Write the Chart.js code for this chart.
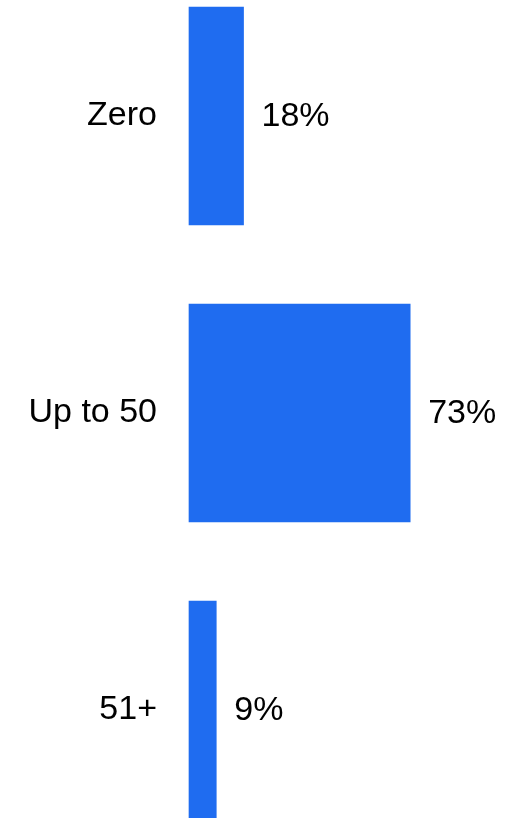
<!DOCTYPE html>
<html>
<head>
<meta charset="utf-8">
<script src="https://cdn.jsdelivr.net/npm/chart.js@4.4.1/dist/chart.umd.min.js"></script>
<style>
  html, body { margin: 0; padding: 0; background: #fff; }
  canvas { display: block; }
</style>
</head>
<body>
<canvas id="chart" width="527" height="818"></canvas>
<script>
const categories = ['Zero', 'Up to 50', '51+'];
const shares = [18, 73, 9];
const valueLabels = ['18%', '73%', '9%'];

const FONT = '"Liberation Sans", Arial, sans-serif';

// draws the percentage to the right of each bar
const valueLabelPlugin = {
  id: 'valueLabels',
  afterDatasetsDraw(chart) {
    const ctx = chart.ctx;
    const meta = chart.getDatasetMeta(0);
    ctx.save();
    ctx.font = '34px ' + FONT;
    ctx.fillStyle = '#000';
    ctx.textAlign = 'left';
    ctx.textBaseline = 'middle';
    meta.data.forEach((bar, i) => {
      ctx.fillText(valueLabels[i], bar.x + 18, bar.y + 1);
    });
    ctx.restore();
  }
};

new Chart(document.getElementById('chart'), {
  type: 'bar',
  data: {
    labels: categories,
    datasets: [{
      data: shares,
      backgroundColor: '#1f6cf0',
      borderWidth: 0,
      barThickness: 218,
      clip: false
    }]
  },
  options: {
    indexAxis: 'y',
    responsive: false,
    maintainAspectRatio: false,
    animation: false,
    layout: { padding: { top: 116, bottom: 108, left: 0, right: 35 } },
    plugins: {
      legend: { display: false },
      tooltip: { enabled: false }
    },
    scales: {
      x: { display: false, min: 0, max: 100 },
      y: {
        offset: false,
        grid: { display: false, drawTicks: false },
        border: { display: false },
        ticks: { color: '#000', padding: 32, font: { size: 34, family: FONT } },
        afterFit(scale) { scale.width = 189; }
      }
    }
  },
  plugins: [valueLabelPlugin]
});
</script>
</body>
</html>
